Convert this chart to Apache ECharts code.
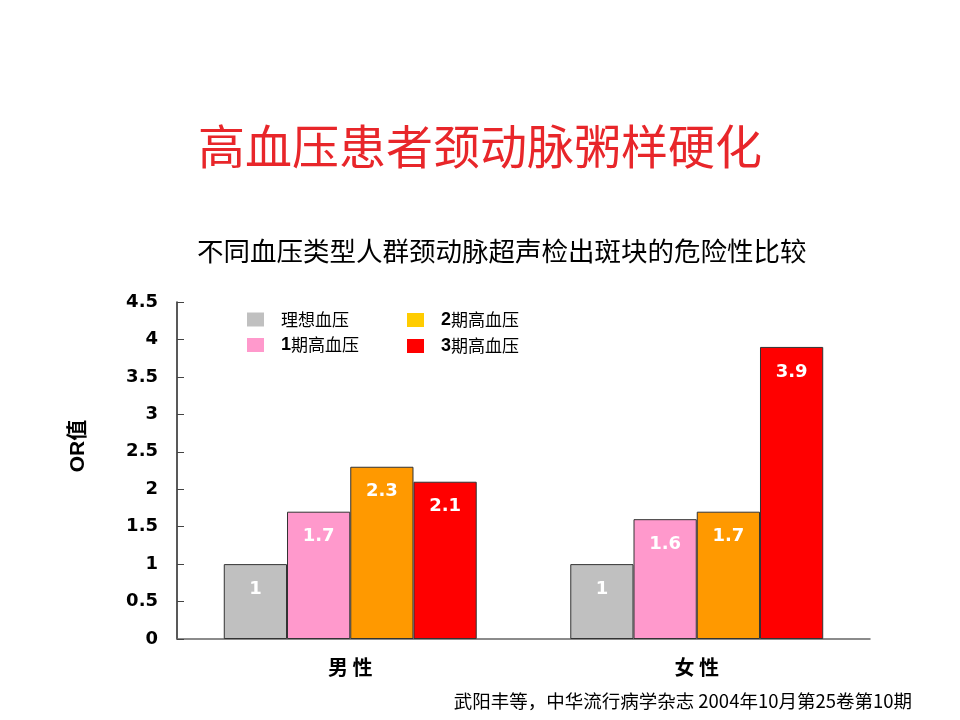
<!DOCTYPE html>
<html>
<head>
<meta charset="utf-8">
<script src="https://cdn.jsdelivr.net/npm/echarts@6/dist/echarts.min.js"></script>
<style>html,body{margin:0;padding:0;background:#fff;}#c{width:960px;height:720px;}</style>
</head>
<body>
<div id="c"></div>
<script>
var categories = ['男 性', '女 性'];
var seriesNames = ['理想血压', '1期高血压', '2期高血压', '3期高血压'];
var idealBP = [1, 1];
var stage1 = [1.7, 1.6];
var stage2 = [2.3, 1.7];
var stage3 = [2.1, 3.9];
var yTicks = [0, 0.5, 1, 1.5, 2, 2.5, 3, 3.5, 4, 4.5];

var barColors = ['#C0C0C0', '#FF99CC', '#FF9900', '#FF0000'];
var legendColors = ['#C0C0C0', '#FF99CC', '#FFCC00', '#FF0000'];
var values = [idealBP, stage1, stage2, stage3];

var chart = echarts.init(document.getElementById('c'));
var FONT = '"Noto Sans CJK SC", "Liberation Sans", Arial, sans-serif';
var NUMFONT = '"DejaVu Sans", "Liberation Sans", Arial, sans-serif';
var legendFormatter = function (name) { return name.replace(/^(\d)/, '{b|$1}'); };
var legendText = {
  fontFamily: FONT, fontSize: 17, color: '#000', padding: [0, 0, 0, 12], lineHeight: 14,
  rich: { b: { fontFamily: '"Liberation Sans", Arial, sans-serif', fontWeight: 'bold', fontSize: 18, color: '#000', lineHeight: 14 } }
};
function legendData(idx) {
  return idx.map(function (i) { return { name: seriesNames[i], itemStyle: { color: legendColors[i], borderWidth: 0 } }; });
}

chart.setOption({
  animation: false,
  backgroundColor: '#fff',
  title: [{
    text: '高血压患者颈动脉粥样硬化',
    left: 'center', top: 118,
    textStyle: { fontFamily: FONT, fontSize: 47, fontWeight: 'normal', color: '#E8262A' }
  }, {
    text: '不同血压类型人群颈动脉超声检出斑块的危险性比较',
    left: 192, top: 233,
    textStyle: { fontFamily: FONT, fontSize: 26.5, fontWeight: 'normal', color: '#000' }
  }],
  legend: [{
    orient: 'vertical', left: 247, top: 311, padding: 0, itemWidth: 17, itemHeight: 14, itemGap: 8,
    icon: 'rect', data: legendData([0, 1]), formatter: legendFormatter, textStyle: legendText
  }, {
    orient: 'vertical', left: 407, top: 311, padding: 0, itemWidth: 17, itemHeight: 14, itemGap: 8,
    icon: 'rect', data: legendData([2, 3]), formatter: legendFormatter, textStyle: legendText
  }],
  grid: { left: 177, right: 90, top: 302, bottom: 81, containLabel: false },
  xAxis: {
    type: 'category', data: categories,
    axisLine: { lineStyle: { color: '#666', width: 1.5 } },
    axisTick: { inside: true, length: 6, lineStyle: { color: '#444' } },
    axisLabel: { margin: 18, fontFamily: FONT, fontSize: 20, fontWeight: 'bold', color: '#000' }
  },
  yAxis: {
    type: 'value', min: 0, max: 4.5, interval: 0.5,
    axisLine: { show: true, lineStyle: { color: '#222', width: 1.5 } },
    axisTick: { show: true, inside: true, length: 7, lineStyle: { color: '#444' } },
    splitLine: { show: false },
    axisLabel: {
      margin: 19, fontFamily: NUMFONT, fontSize: 18, fontWeight: 'bold', color: '#000',
      formatter: function (v) { return yTicks.indexOf(v) >= 0 ? String(v) : ''; }
    }
  },
  series: seriesNames.map(function (n, i) {
    return {
      name: n, type: 'bar', data: values[i],
      barGap: '0%', barCategoryGap: '27%',
      itemStyle: { color: barColors[i], borderColor: '#333', borderWidth: 1 },
      label: {
        show: true, position: 'insideTop', distance: 16,
        fontFamily: NUMFONT, fontSize: 18, fontWeight: 'bold', color: '#fff'
      }
    };
  }),
  graphic: [{
    type: 'text', x: 78, y: 446, rotation: Math.PI / 2,
    style: { text: 'OR值', fontFamily: '"Liberation Sans", "Noto Sans CJK SC", sans-serif', fontSize: 21, fontWeight: 'bold', fill: '#000', align: 'center', verticalAlign: 'middle' }
  }, {
    type: 'text', right: 48, top: 692,
    style: { text: '武阳丰等，中华流行病学杂志 2004年10月第25卷第10期', fontFamily: FONT, fontSize: 18.5, fill: '#000' }
  }]
});
</script>
</body>
</html>
